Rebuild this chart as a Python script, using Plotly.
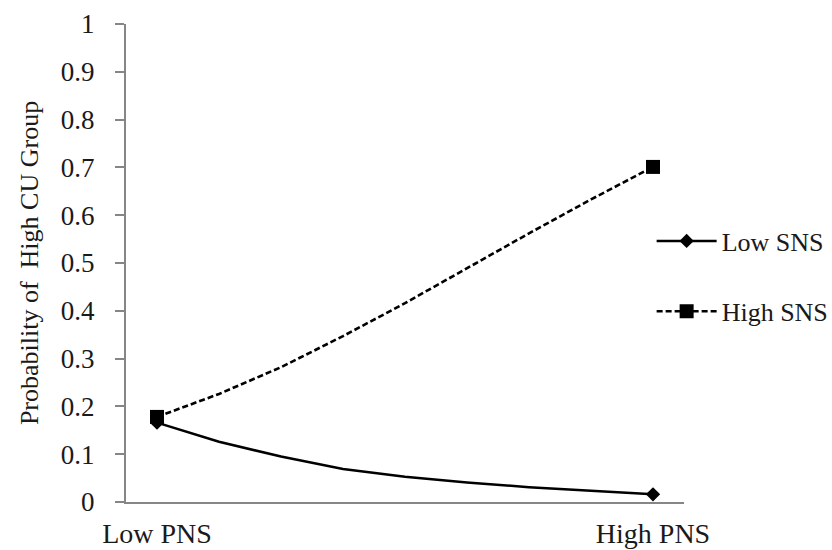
import plotly.graph_objects as go

# Data
pns_positions = [0, 1, 2, 3, 4, 5, 6, 7, 8]
x_tick_vals = [0, 8]
x_tick_text = ["Low PNS", "High PNS"]
low_sns = [0.166, 0.126, 0.095, 0.069, 0.053, 0.041, 0.031, 0.023, 0.016]
high_sns = [0.178, 0.226, 0.282, 0.347, 0.416, 0.489, 0.562, 0.633, 0.701]
y_tick_vals = [0, 0.1, 0.2, 0.3, 0.4, 0.5, 0.6, 0.7, 0.8, 0.9, 1.0]
y_tick_text = ["0", "0.1", "0.2", "0.3", "0.4", "0.5", "0.6", "0.7", "0.8", "0.9", "1"]
series_names = ["Low SNS", "High SNS"]

FONT = "Liberation Serif, Times New Roman, serif"
TXT = "#1a1a1a"
AXC = "#868686"

def end_colors(n):
    return ["black" if i in (0, n - 1) else "rgba(0,0,0,0)" for i in range(n)]

fig = go.Figure()
fig.add_trace(go.Scatter(
    x=pns_positions, y=low_sns, name=series_names[0], mode="lines+markers",
    line=dict(color="black", width=2.5),
    marker=dict(symbol="diamond", size=11, color=end_colors(len(low_sns)),
                line=dict(width=0)),
    legend="legend", showlegend=True,
))
fig.add_trace(go.Scatter(
    x=pns_positions, y=high_sns, name=series_names[1], mode="lines+markers",
    line=dict(color="black", width=2.6, dash="6px,3px"),
    marker=dict(symbol="square", size=14, color=end_colors(len(high_sns)),
                line=dict(width=0)),
    legend="legend2", showlegend=True,
))

fig.update_layout(
    width=832, height=550,
    margin=dict(l=126, r=148, t=24, b=48, autoexpand=False),
    paper_bgcolor="white", plot_bgcolor="white",
    showlegend=True,
    font=dict(family=FONT, color=TXT, size=27),
    legend=dict(x=0.942, xanchor="left", y=0.546, yanchor="middle",
                font=dict(size=26, family=FONT, color=TXT),
                itemwidth=60, bgcolor="rgba(0,0,0,0)", borderwidth=0),
    legend2=dict(x=0.942, xanchor="left", y=0.399, yanchor="middle",
                 font=dict(size=26, family=FONT, color=TXT),
                 itemwidth=60, bgcolor="rgba(0,0,0,0)", borderwidth=0),
)
fig.update_xaxes(
    range=[-0.5, 8.5], tickmode="array", tickvals=x_tick_vals, ticktext=x_tick_text,
    showline=True, linecolor=AXC, linewidth=2, ticks="", showgrid=False,
    zeroline=False, tickfont=dict(size=28, family=FONT, color=TXT),
    ticklabelstandoff=5, automargin=False,
)
fig.update_yaxes(
    range=[0, 1], tickmode="array", tickvals=y_tick_vals, ticktext=y_tick_text,
    showline=True, linecolor=AXC, linewidth=2, ticks="outside", ticklen=9,
    tickcolor=AXC, tickwidth=1.5, showgrid=False, zeroline=False,
    tickfont=dict(size=27, family=FONT, color=TXT), ticklabelstandoff=15,
    automargin=False,
    title=dict(text="Probability of  High CU Group",
               font=dict(size=26, family=FONT, color=TXT), standoff=15),
)

# remove the browser's default 8px page margin so the figure fills the window
fig.write_html("out.html", config={"displayModeBar": False},
               post_script="document.body.style.margin='0';")
